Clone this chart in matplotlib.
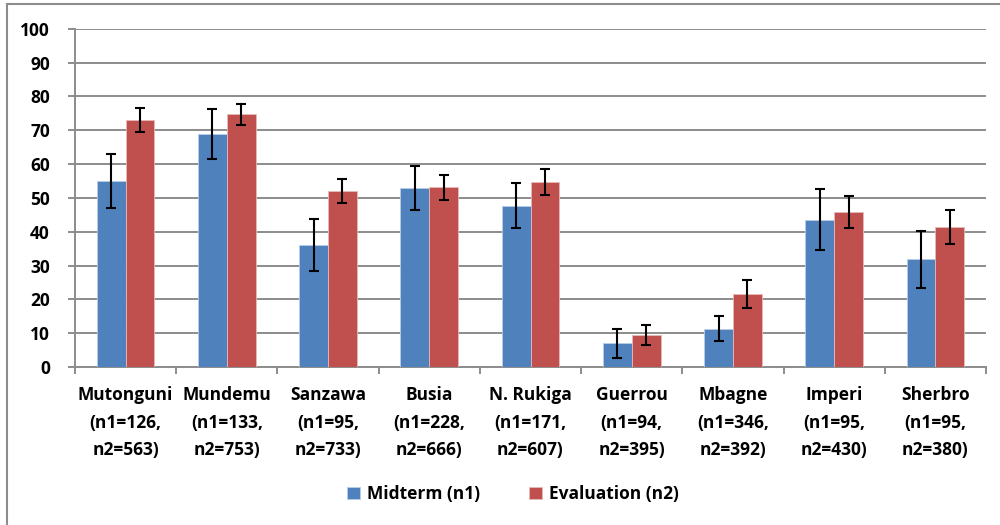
import numpy as np
import matplotlib.pyplot as plt
from matplotlib.patches import Rectangle

# Villages with midterm / evaluation sample sizes
villages = ["Mutonguni", "Mundemu", "Sanzawa", "Busia", "N. Rukiga",
            "Guerrou", "Mbagne", "Imperi", "Sherbro"]
n1 = [126, 133, 95, 228, 171, 94, 346, 95, 95]
n2 = [563, 753, 733, 666, 607, 395, 392, 430, 380]

# Percentages and error half-widths
midterm = [55, 69, 36, 53, 47.7, 7, 11.3, 43.6, 31.9]
midterm_err = [8, 7.4, 7.7, 6.5, 6.7, 4.2, 3.7, 9, 8.4]
evaluation = [73.1, 74.8, 52, 53.1, 54.7, 9.4, 21.6, 45.8, 41.4]
evaluation_err = [3.6, 3.1, 3.6, 3.8, 3.8, 2.9, 4.1, 4.8, 5.0]

plt.rcParams['font.family'] = ['Open Sans', 'DejaVu Sans']
plt.rcParams['font.weight'] = 'bold'
fs = 12.5

grey = '#8c8c8c'
blue = '#4f81bd'
red = '#c0504d'

fig = plt.figure(figsize=(10, 5.25), dpi=100)
ax = fig.add_axes([0.075, 0.301, 0.911, 0.644])

x = np.arange(len(villages))
w = 0.285
ax.bar(x - w / 2, midterm, w, color=blue, edgecolor='#b9cde5', linewidth=0.6,
       yerr=midterm_err, capsize=3.3, ecolor='black',
       error_kw=dict(elinewidth=1.5, capthick=1.5), label='Midterm (n1)', zorder=3)
ax.bar(x + w / 2, evaluation, w, color=red, edgecolor='#e6b9b8', linewidth=0.6,
       yerr=evaluation_err, capsize=3.3, ecolor='black',
       error_kw=dict(elinewidth=1.5, capthick=1.5), label='Evaluation (n2)', zorder=3)

ax.set_xlim(-0.5, len(villages) - 0.5)
ax.set_ylim(0, 100)
ax.set_yticks(np.arange(0, 101, 10))
ax.yaxis.grid(True, color=grey, linewidth=1.4, zorder=0)
ax.set_axisbelow(True)

labels = [f"{v}\n(n1={a},\nn2={b})" for v, a, b in zip(villages, n1, n2)]
ax.set_xticks(x)
ax.set_xticklabels(labels, fontsize=fs, fontweight='bold', linespacing=1.68)
ax.set_xticks(np.arange(-0.5, len(villages)), minor=True)
ax.tick_params(axis='x', which='major', length=0, pad=14)
ax.tick_params(axis='x', which='minor', length=5, color=grey, width=1.4)
ax.tick_params(axis='y', length=5, color=grey, width=1.4, labelsize=fs, pad=13)
for t in ax.get_yticklabels():
    t.set_fontweight('bold')

for side in ['top', 'right']:
    ax.spines[side].set_visible(False)
for side in ['left', 'bottom']:
    ax.spines[side].set_color(grey)
    ax.spines[side].set_linewidth(1.4)

fig.legend(loc='center', bbox_to_anchor=(0.513, 0.059), ncol=2, frameon=False,
           handlelength=0.75, handleheight=0.75, columnspacing=2.8,
           handletextpad=0.4, prop=dict(weight='bold', size=fs))

# outer frame
fig.patches.append(Rectangle((0.007, -0.05), 1.1, 1.0424, transform=fig.transFigure,
                             fill=False, edgecolor=grey, linewidth=1.5))

fig.savefig('out.png', dpi=100)
